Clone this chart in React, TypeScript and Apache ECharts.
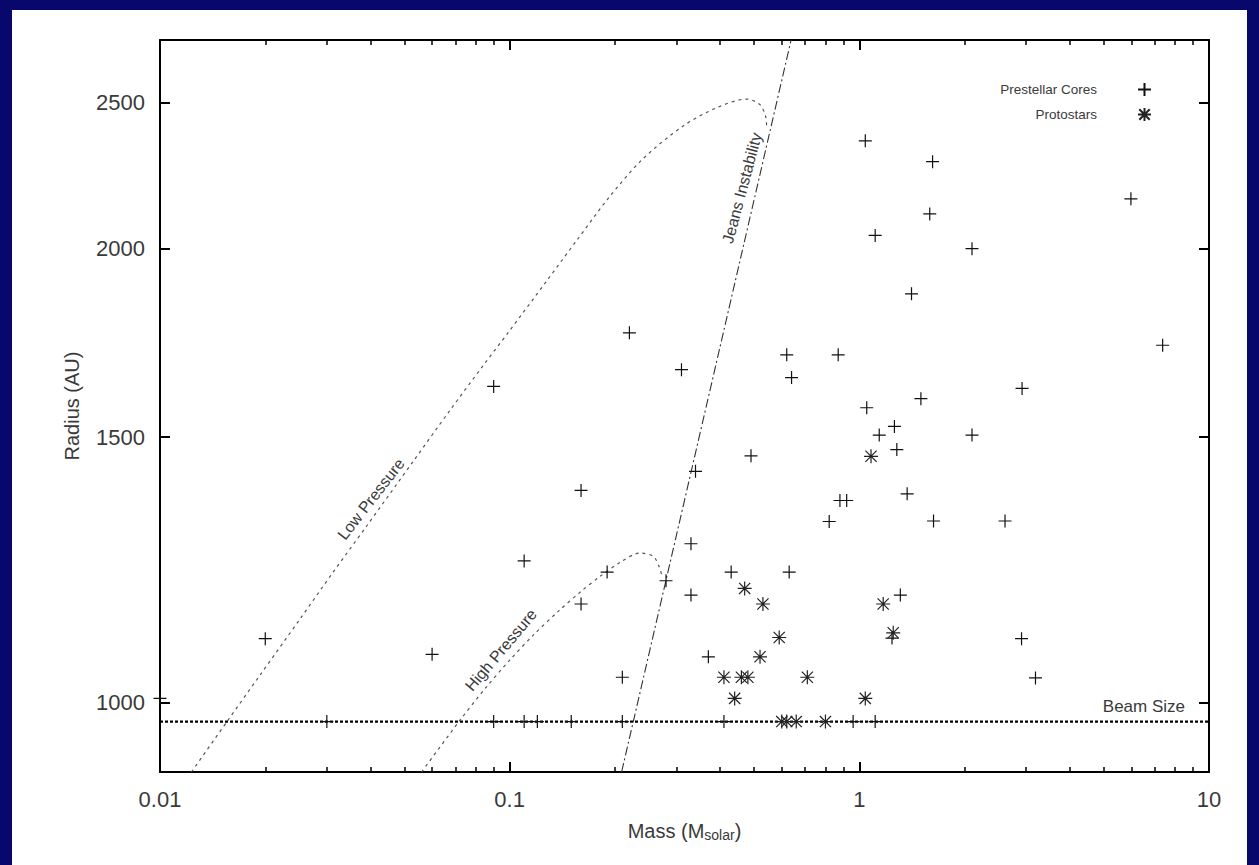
import React, { useEffect, useRef } from 'react';
import * as echarts from 'echarts';

// ---------- data ----------
const coreMass = [
  1.04, 1.62, 1.59, 1.11, 2.10, 5.98, 1.41, 7.37, 2.92, 1.50,
  1.05, 1.26, 1.14, 2.10, 1.28, 1.37, 1.63, 2.61, 0.22, 0.31,
  0.62, 0.87, 0.64, 0.49, 0.34, 0.16, 0.88, 0.92, 0.82, 0.09,
  0.02, 0.06, 0.33, 0.11, 0.19, 0.43, 0.63, 0.28, 0.16, 0.33,
  0.37, 0.21, 1.31, 1.24, 2.91, 3.19, 0.01,
  0.03, 0.09, 0.11, 0.12, 0.15, 0.21, 0.41, 0.96, 1.11,
];
const coreRadius = [
  2358, 2284, 2109, 2041, 2000, 2158, 1867, 1726, 1616, 1591,
  1569, 1525, 1505, 1505, 1472, 1376, 1320, 1320, 1759, 1663,
  1701, 1701, 1643, 1458, 1424, 1383, 1362, 1362, 1319, 1621,
  1103, 1077, 1275, 1242, 1221, 1221, 1221, 1205, 1163, 1179,
  1073, 1040, 1179, 1104, 1103, 1039, 1007,
  972, 972, 972, 972, 972, 972, 972, 972, 972,
];

const protoMass = [
  1.08, 0.47, 0.53, 0.59, 0.52, 0.41, 0.46, 0.48, 0.71, 0.44,
  1.04, 1.17, 1.25, 0.60, 0.62, 0.66, 0.80,
];
const protoRadius = [
  1457, 1191, 1163, 1105, 1073, 1040, 1040, 1040, 1040, 1007,
  1007, 1163, 1113, 972, 972, 972, 972,
];

const lowPressureMass = [
  0.0123, 0.0155, 0.0193, 0.0251, 0.0312, 0.039, 0.053, 0.0675, 0.0839, 0.0989,
  0.1276, 0.1554, 0.1936, 0.241, 0.3135, 0.3908, 0.4761, 0.5195, 0.5396, 0.5432,
];
const lowPressureRadius = [
  900, 971, 1043, 1136, 1220, 1310, 1446, 1563, 1673, 1759,
  1904, 2025, 2167, 2295, 2412, 2480, 2513, 2492, 2447, 2411,
];

const highPressureMass = [
  0.056, 0.0721, 0.085, 0.1002, 0.1168, 0.1377, 0.1589, 0.1813, 0.2067, 0.2358,
  0.2573, 0.2677, 0.2731,
];
const highPressureRadius = [
  900, 974, 1022, 1068, 1109, 1150, 1184, 1213, 1239, 1257,
  1251, 1231, 1212,
];

const jeansMass = [0.209, 0.638];
const jeansRadius = [900, 2750];

const beamMass = [0.01, 10];
const beamRadius = [972, 972];

const xMajorTicks = [0.01, 0.1, 1, 10];
const xMinorTicks = [
  0.02, 0.03, 0.04, 0.05, 0.06, 0.07, 0.08, 0.09,
  0.2, 0.3, 0.4, 0.5, 0.6, 0.7, 0.8, 0.9,
  2, 3, 4, 5, 6, 7, 8, 9,
];
const yTicks = [1000, 1500, 2000, 2500];

// ---------- styling ----------
const FONT = '"Liberation Sans", Arial, sans-serif';
const TEXT = '#3a3a3a';
const PLUS = 'path://M6,0L6,12M0,6L12,6';
const STAR = 'path://M6,0L6,12M0,6L12,6M1.2,1.2L10.8,10.8M1.2,10.8L10.8,1.2';

const pairs = (xs: number[], ys: number[]) => xs.map((x, i) => [x, ys[i]]);

export default function App() {
  const ref = useRef<HTMLDivElement>(null);

  useEffect(() => {
    if (!ref.current) return;
    const chart = echarts.init(ref.current, null, { renderer: 'svg' });

    const xBase = { type: 'log', logBase: 10, min: 0.01, max: 10, gridIndex: 0 };
    const yBase = { type: 'log', logBase: 10, min: 900, max: 2750, gridIndex: 0 };
    const axisLineStyle = { show: true, onZero: false, lineStyle: { color: '#000', width: 2 } };
    const majorTick = (vals: number[]) => ({
      show: true, inside: true, length: 10, customValues: vals,
      lineStyle: { color: '#000', width: 2 },
    });
    const minorTick = {
      show: true, inside: true, length: 5, customValues: xMinorTicks,
      lineStyle: { color: '#000', width: 1.5 },
    };
    const fmt = (v: number) => String(+Number(v).toPrecision(4));

    const option: any = {
      animation: false,
      backgroundColor: '#07076c',
      grid: { left: 160, right: 50, top: 40, bottom: 93, containLabel: false },
      legend: {
        show: true,
        data: ['Prestellar Cores', 'Protostars'],
        orient: 'vertical',
        align: 'right',
        right: 102,
        top: 77,
        itemWidth: 13,
        itemHeight: 13,
        itemGap: 10,
        selectedMode: false,
        textStyle: { fontFamily: FONT, fontSize: 13.5, color: TEXT, padding: [0, 36, 0, 0] },
      },
      xAxis: [
        {
          ...xBase, position: 'bottom',
          axisLine: axisLineStyle,
          axisTick: majorTick(xMajorTicks),
          minorTick: { show: false },
          splitLine: { show: false },
          axisLabel: {
            show: true, customValues: xMajorTicks, formatter: fmt,
            fontFamily: FONT, fontSize: 22, color: TEXT, margin: 16,
          },
          name: 'Mass (M{sub|solar})',
          nameLocation: 'middle',
          nameGap: 48,
          nameTextStyle: {
            fontFamily: FONT, fontSize: 20, color: TEXT,
            rich: { sub: { fontFamily: FONT, fontSize: 14, color: TEXT, verticalAlign: 'bottom', padding: [8, 0, 0, 0] } },
          },
        },
        {
          ...xBase, position: 'bottom',
          axisLine: { show: false }, axisTick: minorTick, axisLabel: { show: false },
          splitLine: { show: false }, minorTick: { show: false },
        },
        {
          ...xBase, position: 'top',
          axisLine: axisLineStyle, axisTick: majorTick(xMajorTicks), axisLabel: { show: false },
          splitLine: { show: false }, minorTick: { show: false },
        },
        {
          ...xBase, position: 'top',
          axisLine: { show: false }, axisTick: minorTick, axisLabel: { show: false },
          splitLine: { show: false }, minorTick: { show: false },
        },
      ],
      yAxis: [
        {
          ...yBase, position: 'left',
          axisLine: axisLineStyle,
          axisTick: majorTick(yTicks),
          splitLine: { show: false },
          minorTick: { show: false },
          axisLabel: {
            show: true, customValues: yTicks, formatter: (v: number) => String(Math.round(v)),
            fontFamily: FONT, fontSize: 22, color: TEXT, margin: 15,
          },
          name: 'Radius (AU)',
          nameLocation: 'middle',
          nameGap: 78,
          nameRotate: 90,
          nameTextStyle: { fontFamily: FONT, fontSize: 20, color: TEXT },
        },
        {
          ...yBase, position: 'right',
          axisLine: axisLineStyle, axisTick: majorTick(yTicks), axisLabel: { show: false },
          splitLine: { show: false }, minorTick: { show: false },
        },
      ],
      graphic: [
        {
          type: 'rect', z: -100, silent: true,
          shape: { x: 12, y: 10, width: 1235, height: 855 },
          style: { fill: '#ffffff' },
        },
        {
          type: 'text', x: 371, y: 499, rotation: (52 * Math.PI) / 180, silent: true,
          style: { text: 'Low Pressure', fill: TEXT, font: `16px ${FONT}`, align: 'center', verticalAlign: 'middle' },
        },
        {
          type: 'text', x: 501, y: 650, rotation: (50 * Math.PI) / 180, silent: true,
          style: { text: 'High Pressure', fill: TEXT, font: `16px ${FONT}`, align: 'center', verticalAlign: 'middle' },
        },
        {
          type: 'text', x: 742, y: 188, rotation: (75 * Math.PI) / 180, silent: true,
          style: { text: 'Jeans Instability', fill: TEXT, font: `16px ${FONT}`, align: 'center', verticalAlign: 'middle' },
        },
        {
          type: 'text', x: 1185, y: 706, silent: true,
          style: { text: 'Beam Size', fill: TEXT, font: `17px ${FONT}`, align: 'right', verticalAlign: 'middle' },
        },
      ],
      series: [
        {
          type: 'line', name: 'Low Pressure', xAxisIndex: 0, yAxisIndex: 0,
          data: pairs(lowPressureMass, lowPressureRadius),
          showSymbol: false, symbol: 'none', smooth: 0.3, silent: true, z: 1,
          lineStyle: { color: '#555', width: 1.2, type: [3, 4] },
        },
        {
          type: 'line', name: 'High Pressure', xAxisIndex: 0, yAxisIndex: 0,
          data: pairs(highPressureMass, highPressureRadius),
          showSymbol: false, symbol: 'none', smooth: 0.3, silent: true, z: 1,
          lineStyle: { color: '#555', width: 1.2, type: [3, 4] },
        },
        {
          type: 'line', name: 'Jeans Instability', xAxisIndex: 0, yAxisIndex: 0,
          data: pairs(jeansMass, jeansRadius),
          showSymbol: false, symbol: 'none', silent: true, z: 1,
          lineStyle: { color: '#333', width: 1.1, type: [9, 3, 2, 3] },
        },
        {
          type: 'line', name: 'Beam Size', xAxisIndex: 0, yAxisIndex: 0,
          data: pairs(beamMass, beamRadius),
          showSymbol: false, symbol: 'none', silent: true, z: 1,
          lineStyle: { color: '#000', width: 2.2, type: [3, 2] },
        },
        {
          type: 'scatter', name: 'Prestellar Cores', xAxisIndex: 0, yAxisIndex: 0,
          data: pairs(coreMass, coreRadius),
          symbol: PLUS, symbolSize: 13, silent: true, z: 3,
          itemStyle: { color: 'rgba(0,0,0,0)', borderColor: '#111', borderWidth: 1.2, opacity: 1 },
        },
        {
          type: 'scatter', name: 'Protostars', xAxisIndex: 0, yAxisIndex: 0,
          data: pairs(protoMass, protoRadius),
          symbol: STAR, symbolSize: 14, silent: true, z: 3,
          itemStyle: { color: 'rgba(0,0,0,0)', borderColor: '#222', borderWidth: 1.2, opacity: 1 },
        },
      ],
    };

    chart.setOption(option);
    return () => chart.dispose();
  }, []);

  return (
    <div
      ref={ref}
      style={{ position: 'fixed', left: 0, top: 0, width: 1259, height: 865 }}
    />
  );
}
